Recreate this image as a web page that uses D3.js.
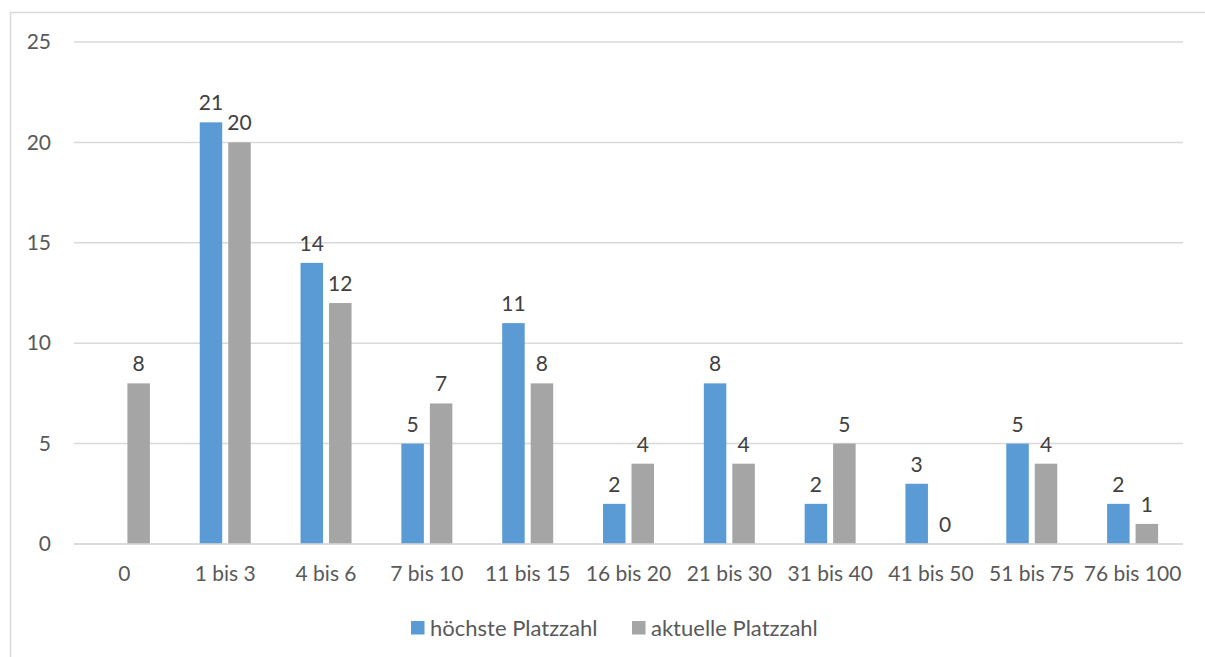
<!DOCTYPE html>
<html>
<head>
<meta charset="utf-8">
<script src="https://cdn.jsdelivr.net/npm/d3@7"></script>
<style>
  html, body { margin: 0; padding: 0; background: #fff; }
  svg text { font-family: Lato, "Open Sans", "Liberation Sans", sans-serif; }
</style>
</head>
<body>
<svg id="chart" width="1205" height="657"></svg>
<script>
// Platzzahl-Klassen
const categories = ["0", "1 bis 3", "4 bis 6", "7 bis 10", "11 bis 15", "16 bis 20", "21 bis 30", "31 bis 40", "41 bis 50", "51 bis 75", "76 bis 100"];
const hoechste = [null, 21, 14, 5, 11, 2, 8, 2, 3, 5, 2];
const aktuelle = [8, 20, 12, 7, 8, 4, 4, 5, 0, 4, 1];
const yTicks = [0, 5, 10, 15, 20, 25];
const seriesNames = ["höchste Platzzahl", "aktuelle Platzzahl"];
const colors = ["#5B9BD5", "#A5A5A5"];

const svg = d3.select("#chart");
const W = 1205, H = 657;
const fontSize = 21;

// outer chart frame
svg.append("rect")
  .attr("x", 10.5).attr("y", 12.5)
  .attr("width", W + 10).attr("height", H + 10)
  .attr("fill", "#fff").attr("stroke", "#D9D9D9").attr("stroke-width", 1.5);

const plotLeft = 74, plotRight = 1183, plotTop = 42, plotBottom = 544;

const x = d3.scaleBand().domain(categories).range([plotLeft, plotRight]).padding(0);
const y = d3.scaleLinear().domain([0, 25]).range([plotBottom, plotTop]);

// gridlines
svg.append("g").selectAll("line").data(yTicks).join("line")
  .attr("x1", plotLeft).attr("x2", plotRight)
  .attr("y1", d => y(d)).attr("y2", d => y(d))
  .attr("stroke", "#D9D9D9").attr("stroke-width", 1.5);

// y axis labels
const yAxis = d3.axisLeft(y).tickValues(yTicks).tickSize(0).tickPadding(0);
const gy = svg.append("g").attr("transform", `translate(51,0)`).call(yAxis);
gy.select(".domain").remove();
gy.selectAll("text")
  .attr("font-size", fontSize).attr("fill", "#595959")
  .attr("font-family", "Lato, 'Open Sans', sans-serif");

// x axis labels
const xAxis = d3.axisBottom(x).tickSize(0).tickPadding(0);
const gx = svg.append("g").attr("transform", `translate(0,${plotBottom + 22})`).call(xAxis);
gx.select(".domain").remove();
gx.selectAll("text")
  .attr("font-size", fontSize).attr("fill", "#595959")
  .attr("font-family", "Lato, 'Open Sans', sans-serif");

const barW = 22.5, gap = 6;
const series = [hoechste, aktuelle];

series.forEach((vals, si) => {
  const offset = si === 0 ? -gap / 2 - barW : gap / 2;
  const data = categories.map((c, i) => ({ c, v: vals[i] })).filter(d => d.v !== null);
  const g = svg.append("g");
  g.selectAll("rect").data(data).join("rect")
    .attr("x", d => x(d.c) + x.bandwidth() / 2 + offset)
    .attr("width", barW)
    .attr("y", d => y(d.v))
    .attr("height", d => y(0) - y(d.v))
    .attr("fill", colors[si]);
  g.selectAll("text").data(data).join("text")
    .attr("x", d => x(d.c) + x.bandwidth() / 2 + offset + barW / 2)
    .attr("y", d => y(d.v) - 12)
    .attr("text-anchor", "middle")
    .attr("font-size", fontSize).attr("fill", "#404040")
    .text(d => d.v);
});

// baseline drawn over the bar feet
svg.append("line")
  .attr("x1", plotLeft).attr("x2", plotRight)
  .attr("y1", y(0)).attr("y2", y(0))
  .attr("stroke", "#D9D9D9").attr("stroke-width", 1.5);

// legend
const legendX = [411, 632];
const lg = svg.append("g");
seriesNames.forEach((name, i) => {
  lg.append("rect").attr("x", legendX[i]).attr("y", 621)
    .attr("width", 13.5).attr("height", 13.5).attr("fill", colors[i]);
  lg.append("text").attr("x", legendX[i] + 19).attr("y", 635.5)
    .attr("font-size", 22).attr("fill", "#595959").text(name);
});
</script>
</body>
</html>
